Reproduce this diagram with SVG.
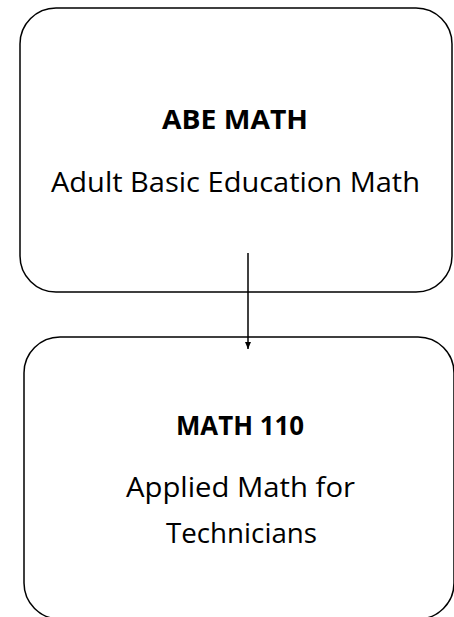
<svg xmlns="http://www.w3.org/2000/svg" width="454" height="617" viewBox="0 0 454 617">
<style>
.box{fill:#fff;stroke:#000;stroke-width:1.5}
.t{font-family:"Open Sans","Liberation Sans",sans-serif;font-size:27.5px;fill:#000;text-anchor:middle}
.b{font-weight:bold}
</style>
<defs>
<marker id="ah" markerWidth="8" markerHeight="8" refX="7" refY="4" orient="auto" markerUnits="userSpaceOnUse">
<path d="M0,1 L7,4 L0,7 Z" fill="#000"/>
</marker>
</defs>
<g id="node-abe">
<rect class="box" x="20" y="8" width="432" height="284" rx="36" ry="36"/>
<text class="t b" x="235" y="129" textLength="146" lengthAdjust="spacingAndGlyphs">ABE MATH</text>
<text class="t" x="235.5" y="192" textLength="369" lengthAdjust="spacingAndGlyphs">Adult Basic Education Math</text>
</g>
<g id="node-math110">
<rect class="box" x="24" y="337" width="430" height="282" rx="36" ry="36"/>
<text class="t b" x="240" y="435" textLength="128" lengthAdjust="spacingAndGlyphs">MATH 110</text>
<text class="t" x="240.5" y="497" textLength="229" lengthAdjust="spacingAndGlyphs">Applied Math for</text>
<text class="t" x="241.5" y="543" textLength="151" lengthAdjust="spacingAndGlyphs">Technicians</text>
</g>
<g id="connectors">
<line x1="248" y1="253" x2="248" y2="349" stroke="#000" stroke-width="1.5" marker-end="url(#ah)"/>
</g>
</svg>
